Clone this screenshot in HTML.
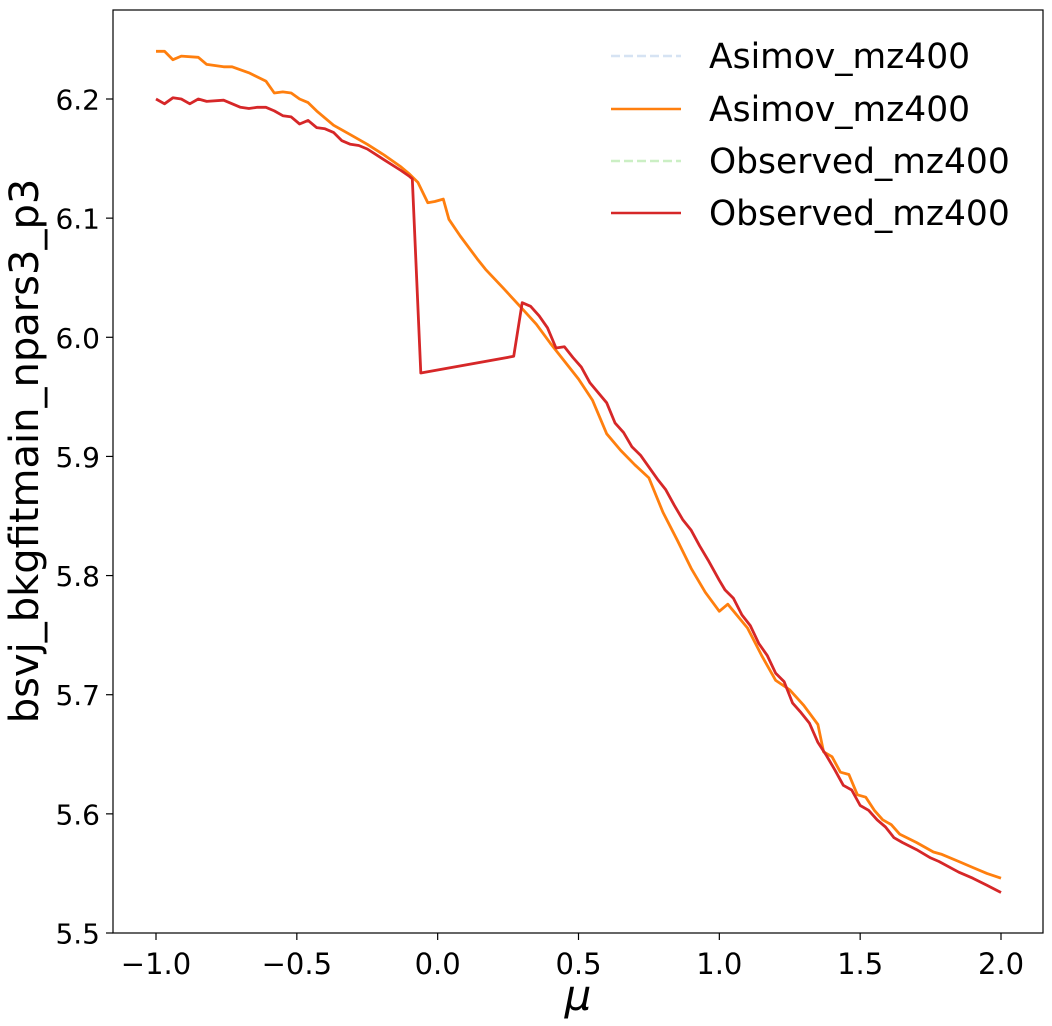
<!DOCTYPE html>
<html><head><meta charset="utf-8"><style>
html,body{margin:0;padding:0;background:#fff;}
svg{display:block;font-family:"DejaVu Sans","Liberation Sans",sans-serif;}
</style></head><body>
<svg id="chart" width="1052" height="1026" viewBox="0 0 1052 1026" xmlns="http://www.w3.org/2000/svg">
<g id="ticks"></g>
<g id="series"></g>
<rect x="113" y="10" width="930" height="923" fill="none" stroke="#000" stroke-width="1.2"/>
<text transform="translate(38,451) rotate(-90)" text-anchor="middle" font-size="40">bsvj_bkgfitmain_npars3_p3</text>
<text x="578" y="1010" text-anchor="middle" font-size="42" font-style="italic">μ</text>
<g>
  <line x1="611" y1="56" x2="681" y2="56" stroke="#aec7e8" stroke-opacity="0.5" stroke-width="2.5" stroke-dasharray="9,4"/>
  <text x="709" y="68" font-size="34.5">Asimov_mz400</text>
  <line x1="611" y1="109" x2="681" y2="109" stroke="#ff7f0e" stroke-width="2.5"/>
  <text x="709" y="121" font-size="34.5">Asimov_mz400</text>
  <line x1="611" y1="161" x2="681" y2="161" stroke="#98df8a" stroke-opacity="0.5" stroke-width="2.5" stroke-dasharray="9,4"/>
  <text x="709" y="173" font-size="34.5">Observed_mz400</text>
  <line x1="611" y1="213" x2="681" y2="213" stroke="#d62728" stroke-width="2.5"/>
  <text x="709" y="225" font-size="34.5">Observed_mz400</text>
</g>
</svg>
<script>
const xTicks = [-1.0, -0.5, 0.0, 0.5, 1.0, 1.5, 2.0];
const xTickLabels = ["\u22121.0", "\u22120.5", "0.0", "0.5", "1.0", "1.5", "2.0"];
const yTicks = [5.5, 5.6, 5.7, 5.8, 5.9, 6.0, 6.1, 6.2];
const yTickLabels = ["5.5", "5.6", "5.7", "5.8", "5.9", "6.0", "6.1", "6.2"];

const asimovMu = [-1.0,-0.97,-0.94,-0.91,-0.85,-0.82,-0.76,-0.73,-0.67,-0.61,-0.58,-0.55,-0.52,-0.49,-0.46,-0.43,-0.37,-0.31,-0.25,-0.19,-0.13,-0.10,-0.07,-0.035,-0.01,0.02,0.04,0.08,0.14,0.17,0.23,0.30,0.35,0.40,0.45,0.50,0.55,0.60,0.65,0.70,0.75,0.80,0.85,0.90,0.95,1.0,1.03,1.1,1.15,1.2,1.25,1.3,1.35,1.37,1.4,1.43,1.46,1.49,1.52,1.55,1.58,1.61,1.64,1.7,1.76,1.79,1.85,1.9,1.95,2.0];
const asimovVal = [6.240,6.240,6.233,6.236,6.235,6.229,6.227,6.227,6.222,6.215,6.205,6.206,6.205,6.200,6.197,6.190,6.178,6.170,6.162,6.153,6.143,6.137,6.130,6.113,6.114,6.116,6.099,6.085,6.066,6.057,6.042,6.024,6.011,5.995,5.980,5.965,5.947,5.919,5.905,5.893,5.882,5.853,5.830,5.806,5.786,5.770,5.776,5.756,5.733,5.712,5.704,5.691,5.675,5.652,5.648,5.635,5.633,5.616,5.614,5.603,5.595,5.591,5.583,5.576,5.568,5.566,5.560,5.555,5.550,5.546];

const obsMu = [-1.0,-0.97,-0.94,-0.91,-0.88,-0.85,-0.82,-0.76,-0.70,-0.67,-0.64,-0.61,-0.58,-0.55,-0.52,-0.49,-0.46,-0.43,-0.40,-0.37,-0.34,-0.31,-0.28,-0.25,-0.19,-0.13,-0.10,-0.09,-0.06,0.27,0.30,0.33,0.36,0.39,0.42,0.45,0.48,0.51,0.54,0.60,0.63,0.66,0.69,0.72,0.78,0.81,0.84,0.87,0.90,0.93,0.96,1.0,1.02,1.05,1.08,1.11,1.14,1.17,1.2,1.23,1.26,1.29,1.32,1.35,1.38,1.41,1.44,1.47,1.5,1.53,1.56,1.59,1.62,1.65,1.7,1.75,1.78,1.85,1.9,1.95,2.0];
const obsVal = [6.200,6.196,6.201,6.200,6.196,6.200,6.198,6.199,6.193,6.192,6.193,6.193,6.190,6.186,6.185,6.179,6.182,6.176,6.175,6.172,6.165,6.162,6.161,6.158,6.149,6.140,6.135,6.133,5.970,5.984,6.029,6.026,6.018,6.008,5.991,5.992,5.983,5.975,5.962,5.945,5.928,5.920,5.908,5.901,5.881,5.872,5.859,5.847,5.838,5.825,5.813,5.796,5.788,5.781,5.767,5.758,5.743,5.733,5.718,5.711,5.693,5.685,5.676,5.660,5.649,5.637,5.624,5.620,5.607,5.603,5.595,5.589,5.580,5.576,5.570,5.563,5.560,5.551,5.546,5.540,5.534];

const NS = "http://www.w3.org/2000/svg";
function xScale(v){ return 156 + (v + 1.0) * (1001 - 156) / 3.0; }
function yScale(v){ return 933 - (v - 5.5) * (933 - 99) / 0.7; }

const tg = document.getElementById('ticks');
xTicks.forEach((t, i) => {
  const x = xScale(t);
  const l = document.createElementNS(NS, 'line');
  l.setAttribute('x1', x); l.setAttribute('x2', x);
  l.setAttribute('y1', 933); l.setAttribute('y2', 940);
  l.setAttribute('stroke', '#000'); l.setAttribute('stroke-width', '1.2');
  
  
  tg.appendChild(l);
  const tx = document.createElementNS(NS, 'text');
  tx.setAttribute('x', x); tx.setAttribute('y', 974);
  tx.setAttribute('text-anchor', 'middle'); tx.setAttribute('font-size', '29');
  tx.textContent = xTickLabels[i];
  
  
  tg.appendChild(tx);
});
yTicks.forEach((t, i) => {
  const y = yScale(t);
  const l = document.createElementNS(NS, 'line');
  l.setAttribute('x1', 106); l.setAttribute('x2', 113);
  l.setAttribute('y1', y); l.setAttribute('y2', y);
  l.setAttribute('stroke', '#000'); l.setAttribute('stroke-width', '1.2');
  
  
  tg.appendChild(l);
  const tx = document.createElementNS(NS, 'text');
  tx.setAttribute('x', 100); tx.setAttribute('y', y + 10.5);
  tx.setAttribute('text-anchor', 'end'); tx.setAttribute('font-size', '28');
  tx.textContent = yTickLabels[i];
  
  
  tg.appendChild(tx);
});

const sg = document.getElementById('series');
function drawLine(xs, ys, color, name){
  const p = document.createElementNS(NS, 'polyline');
  p.setAttribute('points', xs.map((x, i) => xScale(x).toFixed(1) + ',' + yScale(ys[i]).toFixed(1)).join(' '));
  p.setAttribute('fill', 'none');
  p.setAttribute('stroke', color);
  p.setAttribute('stroke-width', '2.8');
  p.setAttribute('stroke-linejoin', 'round');
  
  
  sg.appendChild(p);
}
drawLine(asimovMu, asimovVal, '#ff7f0e', 'asimov-line');
drawLine(obsMu, obsVal, '#d62728', 'observed-line');
</script>
</body></html>
